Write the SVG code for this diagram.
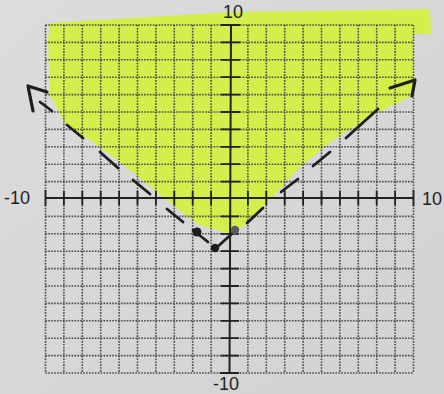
<svg xmlns="http://www.w3.org/2000/svg" width="444" height="394" viewBox="0 0 444 394">
<defs>
<linearGradient id="paper" x1="0" y1="0" x2="1" y2="1">
<stop offset="0" stop-color="#dcdcdc"/>
<stop offset="1" stop-color="#d2d2d2"/>
</linearGradient>
<style>
.grid{fill:none;stroke:#4a4a4a;stroke-width:1.6;stroke-dasharray:1.6 1.3}
.axis{fill:none;stroke:#222;stroke-width:2}
.tick{fill:none;stroke:#222;stroke-width:1.8}
.pen{fill:none;stroke:#1e1e1e;stroke-width:2.8;stroke-linecap:round;stroke-linejoin:round}
.head{fill:none;stroke:#1e1e1e;stroke-width:3.2;stroke-linecap:round;stroke-linejoin:round}
.lbl{font-family:"Liberation Sans",Arial,sans-serif;font-size:18px;fill:#222}
</style>
</defs>
<rect id="background" x="0" y="0" width="444" height="394" fill="url(#paper)"/>
<g id="shading">
<polygon fill="#d4ee4c" points="50,23 230,12 430,9 431,34 414,34 414,95 377,113 333,140 300,167 277,192 263,207 247,223 237,231 230,234 215,229 205,227 193,221 157,192 120,162 90,140 67,127 50,95 48,40"/>
</g>
<g id="grid">
<path class="grid" d="M45.5 25V373M63.9 25V373M82.3 25V373M100.7 25V373M119.1 25V373M137.5 25V373M155.9 25V373M174.3 25V373M192.7 25V373M211.1 25V373M247.9 25V373M266.3 25V373M284.7 25V373M303.1 25V373M321.5 25V373M339.9 25V373M358.3 25V373M376.7 25V373M395.1 25V373M413.5 25V373"/>
<path class="grid" d="M45.5 25H413.5M45.5 42.4H413.5M45.5 59.8H413.5M45.5 77.2H413.5M45.5 94.6H413.5M45.5 112H413.5M45.5 129.4H413.5M45.5 146.8H413.5M45.5 164.2H413.5M45.5 181.6H413.5M45.5 216.4H413.5M45.5 233.8H413.5M45.5 251.2H413.5M45.5 268.6H413.5M45.5 286H413.5M45.5 303.4H413.5M45.5 320.8H413.5M45.5 338.2H413.5M45.5 355.6H413.5M45.5 373H413.5"/>
</g>
<g id="axes">
<path class="axis" d="M231 25L229.5 373M45.5 198H413.5"/>
<path class="tick" d="M221 25H240M221 42.4H240M221 59.8H240M221 77.2H240M221 94.6H240M221 112H240M221 129.4H240M221 146.8H240M221 164.2H240M221 181.6H240M221 216.4H239M221 233.8H239M221 251.2H239M221 268.6H239M221 286H239M221 303.4H239M221 320.8H239M221 338.2H239M221 355.6H239M220 373H239"/>
<path class="tick" d="M45.5 190V206M63.9 191V205M82.3 191V205M100.7 191V205M119.1 191V205M137.5 191V205M155.9 191V205M174.3 191V205M192.7 191V205M211.1 191V205M247.9 191V205M266.3 191V205M284.7 191V205M303.1 191V205M321.5 191V205M339.9 191V205M358.3 191V205M376.7 191V205M395.1 191V205M413.5 190V206"/>
</g>
<g id="labels">
<text class="lbl" x="223" y="18">10</text>
<text class="lbl" x="4" y="204">-10</text>
<text class="lbl" x="422" y="205">10</text>
<text class="lbl" x="213" y="390">-10</text>
</g>
<g id="boundary">
<path class="head" d="M28 86L33 111M28 86L47 92"/>
<path class="pen" d="M40 102L52 111M67 125L83 138M100 152L118 168M133 180L150 194M167 209L183 222M193 230L208 242M215 249L235 231M247 223L263 208M281 192L298 179M313 166L330 152M346 138L378 109"/>
<path class="head" d="M390 88L415 80L412 96"/>
<circle cx="197" cy="232" r="4.5" fill="#1e1e1e"/>
<circle cx="215" cy="248" r="4.2" fill="#1e1e1e"/>
<circle cx="235" cy="230" r="4.2" fill="#5a5a5a"/>
</g>
</svg>
